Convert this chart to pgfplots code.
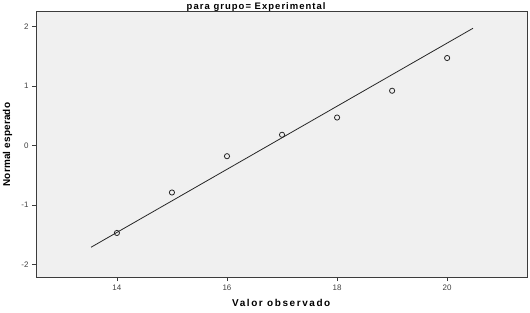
\documentclass[border=0pt]{standalone}
\usepackage{pgfplots}
\pgfplotsset{compat=1.18}
\usepackage{fontspec}
\setmainfont{Liberation Sans}
\newfontfamily\xlabfont[LetterSpace=16]{Liberation Sans}
\newfontfamily\titlefont[LetterSpace=11]{Liberation Sans}
\newfontfamily\ylabfont[LetterSpace=2]{Liberation Sans}
\definecolor{bgplot}{RGB}{240,240,240}
\definecolor{axgray}{RGB}{60,60,60}
\begin{document}
\begin{tikzpicture}
\begin{axis}[
  at={(36bp,36bp)}, anchor=south west,
  scale only axis,
  width=491.5bp, height=266bp,
  xmin=12.53, xmax=21.46,
  ymin=-2.21, ymax=2.26,
  xtick={14,16,18,20},
  ytick={-2,-1,0,1,2},
  xtick pos=bottom, ytick pos=left,
  tick align=outside,
  major tick length=4bp,
  tick style={axgray, line width=0.6bp},
  axis line style={axgray, line width=0.9bp},
  axis background/.style={fill=bgplot},
  tick label style={font=\fontsize{8}{9}\selectfont, text=black!75},
  /pgf/number format/assume math mode=true,
  xlabel={\textbf{Valor observado}},
  ylabel={\textbf{Normal esperado}},
  x label style={at={(axis description cs:0.5005,-0.099)}, anchor=center, font=\xlabfont\fontsize{10}{12}\selectfont},
  y label style={at={(axis description cs:-0.058,0.498)}, anchor=center, rotate=0, font=\ylabfont\fontsize{10}{12}\selectfont},
  clip=false,
]
\addplot[black!85, line width=0.8bp] coordinates {(13.53,-1.71) (20.47,1.97)};
\addplot[only marks, mark=o, mark size=2.6bp, mark options={line width=0.8bp, black!85}] coordinates {
  (14,-1.47) (15,-0.79) (16,-0.18) (17,0.18) (18,0.47) (19,0.92) (20,1.47)
};
\end{axis}
\node[anchor=base, inner sep=0pt, font=\titlefont\fontsize{9.5}{11}\selectfont] at (256.7bp,303bp) {\textbf{para grupo= Experimental}};
\pgfresetboundingbox
\path[use as bounding box] (0,0) rectangle (530bp,313bp);
\end{tikzpicture}
\end{document}
